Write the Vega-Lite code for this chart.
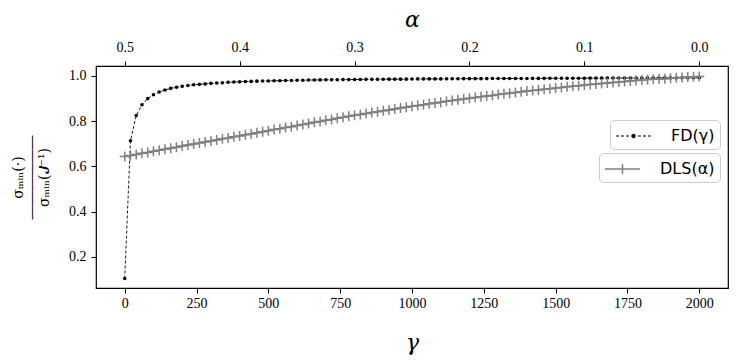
{
  "$schema": "https://vega.github.io/schema/vega-lite/v6.json",
  "width": 632,
  "height": 222,
  "autosize": {"type": "none"},
  "padding": {"left": 96, "top": 66, "right": 19, "bottom": 73},
  "background": "white",
  "config": {
    "view": {"stroke": "black", "strokeWidth": 1.2},
    "axis": {"grid": false, "domain": false, "tickColor": "black", "tickWidth": 1, "tickSize": 5, "labelColor": "black", "labelFont": "Liberation Serif", "labelFontSize": 14, "labelPadding": 4, "titleColor": "black", "titleFontWeight": "normal"}
  },
  "layer": [
    {
      "data": {"values": [
        {"g": 0, "v": 0.105}, {"g": 20, "v": 0.714}, {"g": 40, "v": 0.825}, {"g": 60, "v": 0.873}, {"g": 80, "v": 0.9},
        {"g": 100, "v": 0.917}, {"g": 120, "v": 0.929}, {"g": 140, "v": 0.938}, {"g": 160, "v": 0.945}, {"g": 180, "v": 0.95},
        {"g": 200, "v": 0.954}, {"g": 220, "v": 0.958}, {"g": 240, "v": 0.961}, {"g": 260, "v": 0.963}, {"g": 280, "v": 0.965},
        {"g": 300, "v": 0.967}, {"g": 320, "v": 0.969}, {"g": 340, "v": 0.97}, {"g": 360, "v": 0.972}, {"g": 380, "v": 0.973},
        {"g": 400, "v": 0.974}, {"g": 420, "v": 0.975}, {"g": 440, "v": 0.976}, {"g": 460, "v": 0.977}, {"g": 480, "v": 0.9775},
        {"g": 500, "v": 0.978}, {"g": 520, "v": 0.979}, {"g": 540, "v": 0.979}, {"g": 560, "v": 0.98}, {"g": 580, "v": 0.98},
        {"g": 600, "v": 0.981}, {"g": 620, "v": 0.981}, {"g": 640, "v": 0.982}, {"g": 660, "v": 0.982}, {"g": 680, "v": 0.9825},
        {"g": 700, "v": 0.983}, {"g": 720, "v": 0.983}, {"g": 740, "v": 0.9835}, {"g": 760, "v": 0.984}, {"g": 780, "v": 0.984},
        {"g": 800, "v": 0.984}, {"g": 820, "v": 0.9845}, {"g": 840, "v": 0.985}, {"g": 860, "v": 0.985}, {"g": 880, "v": 0.985},
        {"g": 900, "v": 0.9855}, {"g": 920, "v": 0.986}, {"g": 940, "v": 0.986}, {"g": 960, "v": 0.986}, {"g": 980, "v": 0.986},
        {"g": 1000, "v": 0.9865}, {"g": 1020, "v": 0.987}, {"g": 1040, "v": 0.987}, {"g": 1060, "v": 0.987}, {"g": 1080, "v": 0.987},
        {"g": 1100, "v": 0.987}, {"g": 1120, "v": 0.9873}, {"g": 1140, "v": 0.9875}, {"g": 1160, "v": 0.9877}, {"g": 1180, "v": 0.988},
        {"g": 1200, "v": 0.988}, {"g": 1220, "v": 0.988}, {"g": 1240, "v": 0.988}, {"g": 1260, "v": 0.9883}, {"g": 1280, "v": 0.9885},
        {"g": 1300, "v": 0.9886}, {"g": 1320, "v": 0.9888}, {"g": 1340, "v": 0.989}, {"g": 1360, "v": 0.989}, {"g": 1380, "v": 0.989},
        {"g": 1400, "v": 0.989}, {"g": 1420, "v": 0.9892}, {"g": 1440, "v": 0.9893}, {"g": 1460, "v": 0.9895}, {"g": 1480, "v": 0.9896},
        {"g": 1500, "v": 0.9897}, {"g": 1520, "v": 0.9898}, {"g": 1540, "v": 0.99}, {"g": 1560, "v": 0.99}, {"g": 1580, "v": 0.99},
        {"g": 1600, "v": 0.99}, {"g": 1620, "v": 0.9902}, {"g": 1640, "v": 0.9903}, {"g": 1660, "v": 0.9904}, {"g": 1680, "v": 0.9905},
        {"g": 1700, "v": 0.9906}, {"g": 1720, "v": 0.9907}, {"g": 1740, "v": 0.9908}, {"g": 1760, "v": 0.9909}, {"g": 1780, "v": 0.991},
        {"g": 1800, "v": 0.991}, {"g": 1820, "v": 0.991}, {"g": 1840, "v": 0.991}, {"g": 1860, "v": 0.9912}, {"g": 1880, "v": 0.9913},
        {"g": 1900, "v": 0.9914}, {"g": 1920, "v": 0.9915}, {"g": 1940, "v": 0.9916}, {"g": 1960, "v": 0.9917}, {"g": 1980, "v": 0.9918},
        {"g": 2000, "v": 0.992}
      ]},
      "encoding": {
        "x": {"field": "g", "type": "quantitative", "scale": {"domain": [-100, 2100], "nice": false, "zero": false},
              "axis": {"orient": "bottom", "values": [0, 250, 500, 750, 1000, 1250, 1500, 1750, 2000], "format": "d", "labelPadding": 3, "title": "γ", "titleFont": "DejaVu Serif", "titleFontStyle": "italic", "titleFontSize": 22, "titlePadding": 22}},
        "y": {"field": "v", "type": "quantitative", "scale": {"domain": [0.063, 1.044], "nice": false, "zero": false},
              "axis": {"values": [0.2, 0.4, 0.6, 0.8, 1.0], "format": ".1f", "labelPadding": 5,
                       "title": ["σₘᵢₙ(·)", "――――――", "σₘᵢₙ(𝑱⁻¹)"], "titleFont": "DejaVu Serif", "titleFontSize": 14, "titleLineHeight": 13,
                       "titleAngle": -90, "titleAlign": "center", "titleBaseline": "middle", "titleX": -78, "titleY": 111}}
      },
      "layer": [
        {"mark": {"type": "line", "color": "black", "strokeWidth": 0.9, "strokeDash": [3, 2]}},
        {"mark": {"type": "point", "filled": true, "size": 13, "opacity": 1},
         "encoding": {"color": {"datum": "FD(γ)", "scale": {"range": ["black"]},
           "legend": {"orient": "none", "legendX": 514, "legendY": 54, "title": null,
             "symbolType": "M-1,-0.05H-0.7V0.05H-1Z M-0.5,-0.05H-0.2V0.05H-0.5Z M0,-0.05H0.3V0.05H0Z M1.2,-0.05H1.5V0.05H1.2Z M1.7,-0.05H2V0.05H1.7Z M2.2,-0.05H2.5V0.05H2.2Z M0.53,0A0.22,0.22 0 1,1 0.97,0A0.22,0.22 0 1,1 0.53,0Z",
             "symbolSize": 400, "labelFont": "DejaVu Sans", "labelFontSize": 16, "labelColor": "black", "labelOffset": 34,
             "strokeColor": "#cccccc", "fillColor": "white", "cornerRadius": 4, "padding": 5,
             "encode": {"symbols": {"update": {"fill": {"value": "black"}, "opacity": {"value": 1}, "strokeWidth": {"value": 0}}}}}}}}
      ]
    },
    {
      "data": {"values": [
        {"a": 0.5, "v": 0.644}, {"a": 0.495, "v": 0.649}, {"a": 0.49, "v": 0.653}, {"a": 0.485, "v": 0.658}, {"a": 0.48, "v": 0.662},
        {"a": 0.475, "v": 0.667}, {"a": 0.47, "v": 0.672}, {"a": 0.465, "v": 0.676}, {"a": 0.46, "v": 0.681}, {"a": 0.455, "v": 0.685},
        {"a": 0.45, "v": 0.69}, {"a": 0.445, "v": 0.695}, {"a": 0.44, "v": 0.699}, {"a": 0.435, "v": 0.704}, {"a": 0.43, "v": 0.708},
        {"a": 0.425, "v": 0.713}, {"a": 0.42, "v": 0.717}, {"a": 0.415, "v": 0.722}, {"a": 0.41, "v": 0.726}, {"a": 0.405, "v": 0.731},
        {"a": 0.4, "v": 0.735}, {"a": 0.395, "v": 0.74}, {"a": 0.39, "v": 0.744}, {"a": 0.385, "v": 0.749}, {"a": 0.38, "v": 0.753},
        {"a": 0.375, "v": 0.758}, {"a": 0.37, "v": 0.763}, {"a": 0.365, "v": 0.767}, {"a": 0.36, "v": 0.772}, {"a": 0.355, "v": 0.776},
        {"a": 0.35, "v": 0.781}, {"a": 0.345, "v": 0.786}, {"a": 0.34, "v": 0.79}, {"a": 0.335, "v": 0.795}, {"a": 0.33, "v": 0.799},
        {"a": 0.325, "v": 0.804}, {"a": 0.32, "v": 0.808}, {"a": 0.315, "v": 0.813}, {"a": 0.31, "v": 0.817}, {"a": 0.305, "v": 0.822},
        {"a": 0.3, "v": 0.826}, {"a": 0.295, "v": 0.83}, {"a": 0.29, "v": 0.834}, {"a": 0.285, "v": 0.838}, {"a": 0.28, "v": 0.842},
        {"a": 0.275, "v": 0.846}, {"a": 0.27, "v": 0.85}, {"a": 0.265, "v": 0.854}, {"a": 0.26, "v": 0.858}, {"a": 0.255, "v": 0.862},
        {"a": 0.25, "v": 0.866}, {"a": 0.245, "v": 0.87}, {"a": 0.24, "v": 0.873}, {"a": 0.235, "v": 0.877}, {"a": 0.23, "v": 0.88},
        {"a": 0.225, "v": 0.884}, {"a": 0.22, "v": 0.888}, {"a": 0.215, "v": 0.891}, {"a": 0.21, "v": 0.895}, {"a": 0.205, "v": 0.898},
        {"a": 0.2, "v": 0.902}, {"a": 0.195, "v": 0.905}, {"a": 0.19, "v": 0.908}, {"a": 0.185, "v": 0.911}, {"a": 0.18, "v": 0.914},
        {"a": 0.175, "v": 0.918}, {"a": 0.17, "v": 0.921}, {"a": 0.165, "v": 0.924}, {"a": 0.16, "v": 0.927}, {"a": 0.155, "v": 0.93},
        {"a": 0.15, "v": 0.933}, {"a": 0.145, "v": 0.936}, {"a": 0.14, "v": 0.938}, {"a": 0.135, "v": 0.941}, {"a": 0.13, "v": 0.944},
        {"a": 0.125, "v": 0.947}, {"a": 0.12, "v": 0.949}, {"a": 0.115, "v": 0.952}, {"a": 0.11, "v": 0.955}, {"a": 0.105, "v": 0.957},
        {"a": 0.1, "v": 0.96}, {"a": 0.095, "v": 0.962}, {"a": 0.09, "v": 0.964}, {"a": 0.085, "v": 0.967}, {"a": 0.08, "v": 0.969},
        {"a": 0.075, "v": 0.971}, {"a": 0.07, "v": 0.973}, {"a": 0.065, "v": 0.975}, {"a": 0.06, "v": 0.978}, {"a": 0.055, "v": 0.98},
        {"a": 0.05, "v": 0.982}, {"a": 0.045, "v": 0.984}, {"a": 0.04, "v": 0.985}, {"a": 0.035, "v": 0.987}, {"a": 0.03, "v": 0.988},
        {"a": 0.025, "v": 0.99}, {"a": 0.02, "v": 0.992}, {"a": 0.015, "v": 0.993}, {"a": 0.01, "v": 0.995}, {"a": 0.005, "v": 0.996},
        {"a": 0.0, "v": 0.998}
      ]},
      "encoding": {
        "x": {"field": "a", "type": "quantitative", "scale": {"domain": [-0.025, 0.525], "reverse": true, "nice": false, "zero": false},
              "axis": {"orient": "top", "values": [0.5, 0.4, 0.3, 0.2, 0.1, 0.0], "format": ".1f", "labelPadding": 7, "title": "α", "titleFont": "DejaVu Serif", "titleFontStyle": "italic", "titleFontSize": 22, "titlePadding": 9}},
        "y": {"field": "v", "type": "quantitative", "scale": {"domain": [0.063, 1.044], "nice": false, "zero": false}}
      },
      "layer": [
        {"mark": {"type": "line", "color": "#808080", "strokeWidth": 1.5}},
        {"mark": {"type": "point", "shape": "M0,-1V1M-1,0H1", "filled": false, "size": 100, "strokeWidth": 1.5, "opacity": 1},
         "encoding": {"color": {"datum": "DLS(α)", "scale": {"range": ["#808080"]},
           "legend": {"orient": "none", "legendX": 503, "legendY": 87, "title": null,
             "symbolType": "M-1,0H2.5M0.75,-0.5V0.5", "symbolSize": 400, "labelFont": "DejaVu Sans", "labelFontSize": 16, "labelColor": "black", "labelOffset": 34,
             "strokeColor": "#cccccc", "fillColor": "white", "cornerRadius": 4, "padding": 5,
             "encode": {"symbols": {"update": {"stroke": {"value": "#808080"}, "strokeWidth": {"value": 1.5}, "fill": {"value": "transparent"}, "opacity": {"value": 1}}}}}}}}
      ]
    }
  ],
  "resolve": {"scale": {"x": "independent", "color": "independent"}, "axis": {"x": "independent"}, "legend": {"color": "independent"}}
}
